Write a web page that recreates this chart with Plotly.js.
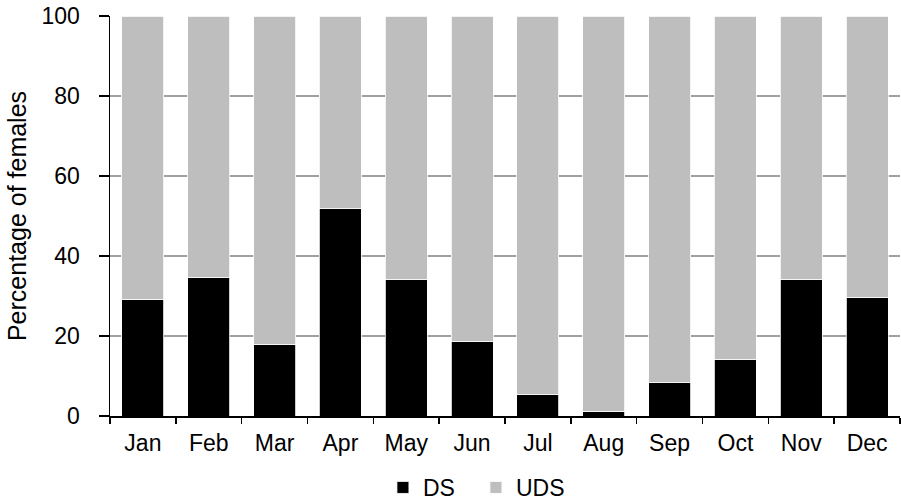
<!DOCTYPE html>
<html>
<head>
<meta charset="utf-8">
<script src="https://cdn.plot.ly/plotly-3.0.1.min.js"></script>
<style>html,body{margin:0;padding:0;background:#fff;}#chart{width:901px;height:500px;}</style>
</head>
<body>
<div id="chart"></div>
<script>
var months = ["Jan","Feb","Mar","Apr","May","Jun","Jul","Aug","Sep","Oct","Nov","Dec"];
var dsValues = [29.2, 34.6, 17.9, 51.8, 34.2, 18.7, 5.3, 1.2, 8.3, 14.2, 34.2, 29.7];
var udsValues = dsValues.map(function(v){ return 100 - v; });
var yTicks = [0, 20, 40, 60, 80, 100];

var traces = [
  {type:"bar", name:"DS", x:months, y:dsValues, marker:{color:"#000000", line:{color:"#ffffff", width:0.8}}, hoverinfo:"x+y"},
  {type:"bar", name:"UDS", x:months, y:udsValues, marker:{color:"#bebebe", line:{color:"#ffffff", width:0.8}}, hoverinfo:"x+y"}
];

var layout = {
  width:901, height:500,
  barmode:"stack",
  bargap:0.36,
  margin:{l:110, r:1, t:16, b:84, autoexpand:false},
  paper_bgcolor:"#ffffff", plot_bgcolor:"#ffffff",
  font:{family:"Liberation Sans, Arial, sans-serif", size:23, color:"#000"},
  showlegend:true,
  legend:{orientation:"h", xref:"container", yref:"container", x:0.425, xanchor:"left", y:0.025, yanchor:"middle",
          font:{size:23}, entrywidth:48, entrywidthmode:"pixels", traceorder:"normal"},
  xaxis:{
    showline:true, linecolor:"#000", linewidth:1.5,
    ticks:"outside", tickson:"boundaries", ticklen:6, tickcolor:"#000", tickwidth:1.5,
    showgrid:false, zeroline:false, automargin:false,
    ticklabelstandoff:6,
    tickfont:{size:23}
  },
  yaxis:{
    range:[0,100], tickvals:yTicks, ticktext:yTicks.map(String),
    showline:true, linecolor:"#000", linewidth:1.5,
    ticks:"outside", ticklen:10, tickcolor:"#000", tickwidth:1.5,
    showgrid:true, gridcolor:"#a0a0a0", gridwidth:1.5,
    zeroline:false, automargin:false,
    ticklabelstandoff:14,
    tickfont:{size:23},
    title:{text:"Percentage of females", font:{size:25}, standoff:8}
  }
};

Plotly.newPlot("chart", traces, layout, {displayModeBar:false, staticPlot:true});
</script>
</body>
</html>
